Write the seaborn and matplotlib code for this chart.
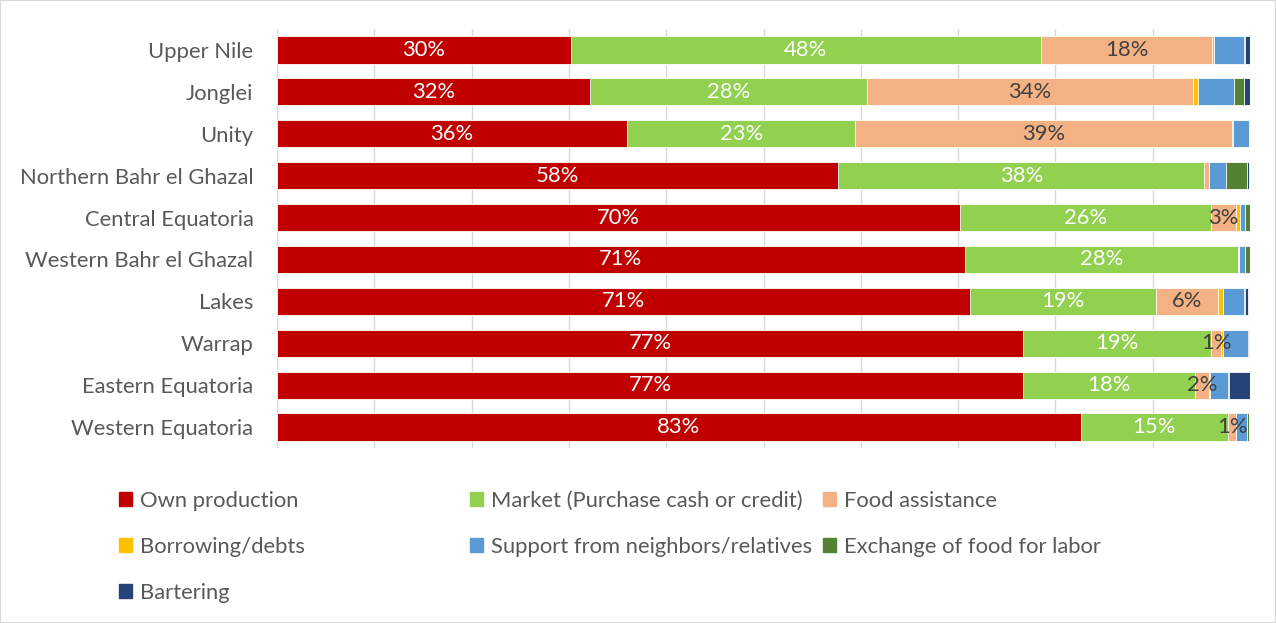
import matplotlib
matplotlib.use('Agg')

import numpy as np
import pandas as pd
import matplotlib.pyplot as plt
import matplotlib.patches as mpatches
import seaborn as sns

states = ["Upper Nile", "Jonglei", "Unity", "Northern Bahr el Ghazal",
          "Central Equatoria", "Western Bahr el Ghazal", "Lakes", "Warrap",
          "Eastern Equatoria", "Western Equatoria"]

sources = ["Own production", "Market (Purchase cash or credit)", "Food assistance",
           "Borrowing/debts", "Support from neighbors/relatives",
           "Exchange of food for labor", "Bartering"]

own_production = [30.2, 32.2, 36.0, 57.7, 70.2, 70.7, 71.2, 76.7, 76.7, 82.6]
market = [48.3, 28.4, 23.4, 37.6, 25.8, 28.1, 19.1, 19.3, 17.6, 15.1]
food_assistance = [17.6, 33.5, 38.7, 0.5, 2.6, 0.1, 6.4, 1.0, 1.5, 0.9]
borrowing = [0.2, 0.6, 0.2, 0.0, 0.4, 0.0, 0.5, 0.2, 0.1, 0.0]
support = [3.1, 3.7, 1.6, 1.7, 0.5, 0.6, 2.2, 2.6, 1.8, 1.1]
exchange = [0.1, 1.0, 0.0, 2.2, 0.5, 0.5, 0.1, 0.1, 0.1, 0.2]
bartering = [0.6, 0.6, 0.0, 0.2, 0.0, 0.0, 0.3, 0.0, 2.3, 0.0]

colors = ["#C00000", "#92D050", "#F4B183", "#FFC000", "#5B9BD5", "#548235", "#264478"]

series = [own_production, market, food_assistance, borrowing, support, exchange, bartering]
df = pd.DataFrame(dict(zip(sources, series)), index=states)
cum = df.cumsum(axis=1)

plt.rcParams['font.family'] = ['Lato', 'DejaVu Sans']
FS = 15.8
fig = plt.figure(figsize=(12.76, 6.23), dpi=100)
ax = fig.add_axes([277 / 1276, 1 - 448 / 623, (1250 - 277) / 1276, (448 - 29) / 623])

# stacked bars: draw cumulative totals from the last series backwards
for i in range(len(sources) - 1, -1, -1):
    d = pd.DataFrame({"state": states, "value": cum[sources[i]].values})
    sns.barplot(data=d, x="value", y="state", orient="h", color=colors[i],
                saturation=1, width=0.65, edgecolor="white", linewidth=0.6,
                ax=ax, zorder=3)

ax.set_xlim(0, 100)
ax.set_ylim(9.5, -0.5)
ax.set_xticks(np.arange(0, 101, 10))
ax.xaxis.grid(True, color="#D9D9D9", linewidth=1, zorder=0)
ax.set_axisbelow(True)
ax.tick_params(axis="x", length=0, labelbottom=False)
ax.tick_params(axis="y", length=0, labelsize=FS, labelcolor="#595959", pad=17)
for s in ax.spines.values():
    s.set_visible(False)
ax.set_xlabel("")
ax.set_ylabel("")

# data labels for the first three series
label_colors = ["white", "white", "#404040"]
for j in range(3):
    col = sources[j]
    for k, st in enumerate(states):
        v = df.loc[st, col]
        if v < 0.8:
            continue
        center = cum.loc[st, col] - v / 2
        ax.text(center, k, f"{v:.0f}%", ha="center", va="center",
                fontsize=FS, color=label_colors[j], zorder=5)

# legend laid out in three columns like the original
col_items = [[0, 3, 6], [1, 4], [2, 5]]
col_x = [119, 470, 823]
for items, x in zip(col_items, col_x):
    handles = [mpatches.Patch(color=colors[i], label=sources[i]) for i in items]
    fig.legend(handles=handles, loc="upper left",
               bbox_to_anchor=(x / 1276, 1 - 491 / 623), frameon=False,
               fontsize=FS, labelcolor="#595959", handlelength=0.6,
               handleheight=0.6, handletextpad=0.35, labelspacing=1.18,
               borderpad=0, borderaxespad=0)

fig.patches.append(mpatches.Rectangle((0, 0), 1, 1, transform=fig.transFigure,
                                      fill=False, edgecolor="#D9D9D9", linewidth=1.5))

fig.savefig("out.png", dpi=100)
